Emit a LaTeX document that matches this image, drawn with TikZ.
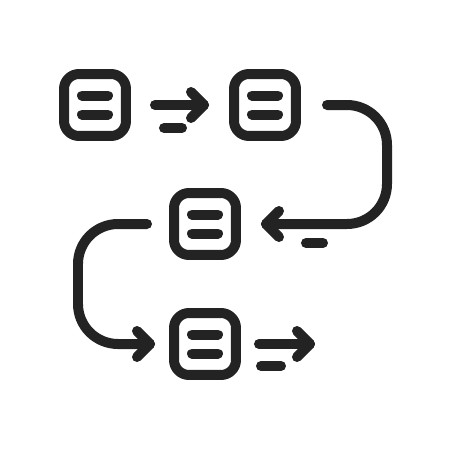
\documentclass[tikz,border=0pt]{standalone}
\usetikzlibrary{calc}
\definecolor{ink}{RGB}{35,35,35}
\begin{document}
\begin{tikzpicture}[x=0.02cm,y=-0.02cm,
  every path/.style={line width=0.2cm,line cap=round,line join=round,draw=ink},
  card/.style={draw=ink,line width=0.2cm,rounded corners=0.3cm,minimum width=1.24cm,minimum height=1.24cm,inner sep=0pt},
  flow/.style={rounded corners=0.8cm}]
\useasboundingbox[fill=white,draw=none] (0,0) rectangle (450,450);
\node[card] (b1) at (95,105) {};
\node[card] (b2) at (265,105) {};
\node[card] (b3) at (205,224) {};
\node[card] (b4) at (205,344) {};
\foreach \n in {b1,b2,b3,b4}{
  \draw ($(\n)+(-13,-9.5)$) -- ($(\n)+(13,-9.5)$);
  \draw ($(\n)+(-13,9.5)$) -- ($(\n)+(13,9.5)$);
}
% arrow 1
\coordinate (t1) at ($(b2.west)+(-25,0)$);
\draw ($(b1.east)+(24,0)$) -- (t1);
\draw ($(t1)+(-13,-13)$) -- (t1) -- ($(t1)+(-13,13)$);
\draw ($(b1.east)+(33,23)$) -- ($(b1.east)+(51,23)$);
% curve b2 -> b3
\coordinate (t2) at ($(b3.east)+(25,0)$);
\draw[flow] ($(b2.east)+(26,0)$) -- (387,105) -- (387,224) -- (t2);
\draw ($(t2)+(13,-13)$) -- (t2) -- ($(t2)+(13,13)$);
\draw ($(b3.east)+(65,19)$) -- ($(b3.east)+(82,19)$);
% curve b3 -> b4
\coordinate (t3) at ($(b4.west)+(-19,0)$);
\draw[flow] ($(b3.west)+(-22,0)$) -- (78,224) -- (78,344) -- (t3);
\draw ($(t3)+(-13,-13)$) -- (t3) -- ($(t3)+(-13,13)$);
% arrow 4
\coordinate (t4) at ($(b4.east)+(69,0)$);
\draw ($(b4.east)+(18,0)$) -- (t4);
\draw ($(t4)+(-13,-13)$) -- (t4) -- ($(t4)+(-13,13)$);
\draw ($(b4.east)+(20,22)$) -- ($(b4.east)+(40,22)$);
\end{tikzpicture}
\end{document}
